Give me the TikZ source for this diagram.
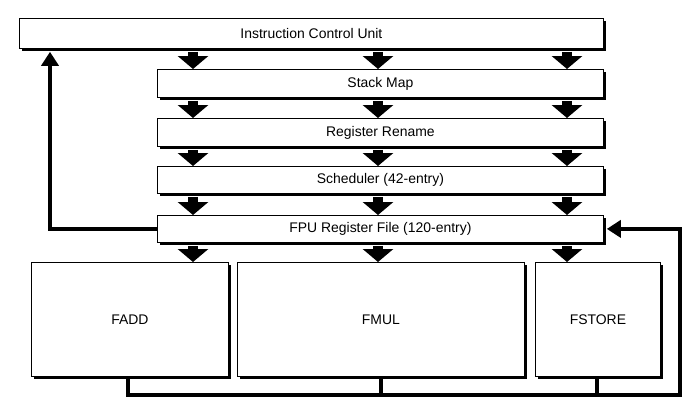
\documentclass[tikz,border=0pt]{standalone}
\usepackage{fontspec}
\setmainfont{Liberation Sans}
\usetikzlibrary{shadows,arrows.meta}
\begin{document}
\begin{tikzpicture}[x=1bp,y=-1bp,
  box/.style={draw,fill=white,line width=0.8bp,inner sep=0pt,anchor=north west,
    font=\fontsize{14}{16}\selectfont,
    drop shadow={shadow xshift=3bp,shadow yshift=-3bp,fill=black,opacity=1}},
  bigarrow/.style={line width=10bp,-{Triangle[width=30bp,length=13bp]}},
  feedback/.style={line width=4bp,-{Triangle[width=17bp,length=14bp]}}]
  \useasboundingbox (0,0) rectangle (698,411);
  % Boxes
  \node[box,minimum width=584bp,minimum height=30bp] (icu) at (19,18) {Instruction Control Unit};
  \node[box,minimum width=446bp,minimum height=28bp] (stack) at (157,69) {Stack Map};
  \node[box,minimum width=446bp,minimum height=28bp] (rename) at (157,118) {Register Rename};
  \node[box,minimum width=446bp,minimum height=27bp] (sched) at (157,166) {Scheduler (42-entry)};
  \node[box,minimum width=446bp,minimum height=27bp] (fpu) at (157,215) {FPU Register File (120-entry)};
  \node[box,minimum width=197bp,minimum height=114bp] (fadd) at (31,262) {FADD};
  \node[box,minimum width=287bp,minimum height=114bp] (fmul) at (237,262) {FMUL};
  \node[box,minimum width=125bp,minimum height=114bp] (fstore) at (535,262) {FSTORE};
  \coordinate (bl) at (128,395);
  \coordinate (br) at (680,395);
  % Pipeline arrows
  \foreach \a/\b in {icu/stack,stack/rename,rename/sched,sched/fpu}
    \foreach \x in {193,378,567}
      \draw[bigarrow] ([yshift=-3bp]\a.south -| \x,0) -- (\b.north -| \x,0);
  \foreach \x/\b in {193/fadd,378/fmul,567/fstore}
    \draw[bigarrow] ([yshift=-3bp]fpu.south -| \x,0) -- (\b.north -| \x,0);
  % Feedback paths
  \draw[feedback] (fpu.west) -| ([xshift=50bp,yshift=-3bp]icu.south west -| 0,0);
  \draw[line width=4bp] (fadd.south -| bl) -- (bl) -- (br);
  \draw[line width=4bp] (fmul.south) -- (fmul.south |- bl);
  \draw[line width=4bp] (fstore.south -| 597,0) -- (597,395);
  \draw[feedback] (bl) -- (br) |- ([xshift=3bp]fpu.east);
\end{tikzpicture}
\end{document}
